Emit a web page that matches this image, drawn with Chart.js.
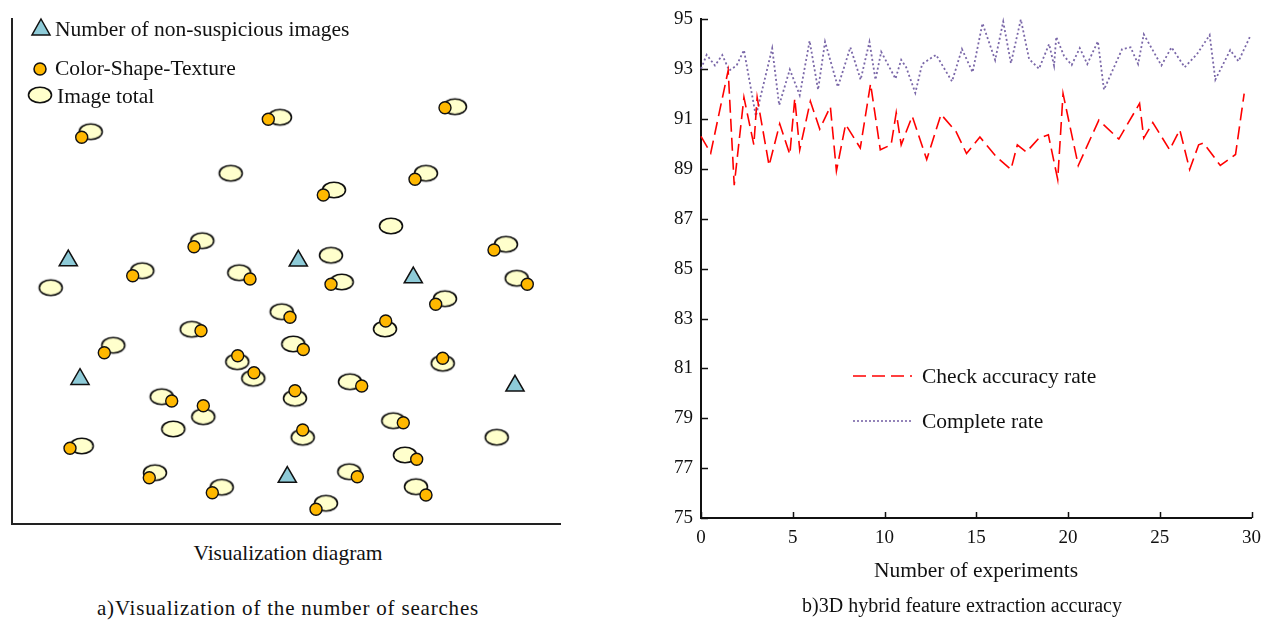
<!DOCTYPE html>
<html>
<head>
<meta charset="utf-8">
<script src="https://cdn.jsdelivr.net/npm/chart.js"></script>
<style>
  body { margin: 0; background: #fff; width: 1270px; height: 621px; position: relative; overflow: hidden;
         font-family: "Liberation Serif", "Times New Roman", serif; color: #111; }
  #leftBox { position: absolute; left: 0; top: 0; width: 600px; height: 540px; }
  #rightBox { position: absolute; left: 640px; top: 0; width: 630px; height: 560px; }
  .lbl { position: absolute; white-space: nowrap; transform: translate(-50%, -50%); font-size: 21.5px; }
</style>
</head>
<body>
<div id="leftBox"><canvas id="leftCanvas"></canvas></div>
<div id="rightBox"><canvas id="rightCanvas"></canvas></div>
<div class="lbl" style="left:288px;top:553px;">Visualization diagram</div>
<div class="lbl" style="left:288px;top:608px;font-size:21px;letter-spacing:0.8px;">a)Visualization of the number of searches</div>
<div class="lbl" style="left:976px;top:570px;">Number of experiments</div>
<div class="lbl" style="left:962px;top:605px;font-size:20px;">b)3D hybrid feature extraction accuracy</div>

<script>
// a) visualisation diagram : positions inside the diagram
const imageTotalX = [78.7, 268, 218.7, 190.3, 130.3, 227.3, 38.7, 269.7, 179.7, 101.3, 443, 414, 322, 379, 319, 494, 329.7, 504.7, 433, 373,
  281.3, 225.3, 241.3, 149.7, 191.3, 161.3, 69.7, 143, 209.7, 430.7, 338, 283, 381.3, 290.7, 484.7, 393, 337.3, 404, 314];
const imageTotalY = [392.3, 406.7, 350.7, 283.3, 253.3, 251.3, 236.3, 212.3, 194.7, 178.7, 417.3, 350.7, 334, 298, 268.7, 279.7, 242, 245.7, 225.3, 195,
  180, 162.3, 145.7, 127.3, 107.3, 95, 78, 51.3, 36.7, 160.7, 142.3, 125.7, 103.3, 86.7, 86.7, 69, 52.3, 37.3, 20.7];

const cstX = [69.7, 256.3, 182, 120.7, 238, 278, 189, 92.3, 433, 403, 311.3, 482, 319, 515.3, 423.7, 373.7, 291.3, 225.7, 242, 159.7,
  191.3, 58, 137.3, 200.3, 430.7, 349.7, 283, 391.3, 290.7, 404.7, 345.3, 414, 304];
const cstY = [386.7, 404.7, 277.3, 248.3, 245, 206.7, 193.3, 171.3, 416.3, 344.7, 329, 274, 239.7, 239.7, 219.7, 203, 174.5, 168.3, 151.3, 123,
  118.3, 75.7, 46.3, 31.3, 165.7, 138, 133.3, 101.3, 94, 64.7, 47.3, 29, 14.7];

const nonSuspX = [56.3, 286.3, 401.3, 68, 503, 275.3];
const nonSuspY = [263.5, 263.2, 246.5, 144.8, 138.2, 47];

const legendLeft = ["Number of non-suspicious images", "Color-Shape-Texture", "Image total"];

// b) accuracy per experiment
const checkX = [0, 0.53, 1.48, 1.81, 2.34, 2.88, 3.06, 3.71, 4.29, 4.84, 5.11, 5.38, 5.96, 6.47, 7.05, 7.38, 7.88, 8.68, 9.24, 9.77,
  10.36, 10.64, 10.91, 11.51, 12.3, 13.08, 13.9, 14.47, 15.2, 16.07, 16.89, 17.24, 17.73, 18.42, 18.93, 19.44, 19.73, 20.56, 21.68, 22.77,
  23.9, 24.13, 24.62, 25.54, 26.09, 26.63, 27.12, 27.39, 28.3, 29.13, 29.6];
const checkY = [90.31, 89.64, 92.95, 88.35, 91.87, 89.97, 91.87, 89.14, 90.81, 89.58, 91.83, 89.77, 91.72, 90.6, 91.5, 88.92, 90.79, 89.84, 92.42, 89.77,
  89.97, 91.26, 89.97, 91.12, 89.38, 91.19, 90.5, 89.62, 90.28, 89.51, 88.98, 89.97, 89.68, 90.24, 90.37, 88.58, 92.02, 89.14, 90.96, 90.2,
  91.63, 90.24, 90.86, 89.77, 90.57, 88.98, 89.97, 90.04, 89.14, 89.58, 92.02];

const completeX = [0, 0.31, 0.76, 1.16, 1.54, 1.94, 2.34, 2.99, 3.88, 4.26, 4.84, 5.38, 5.92, 6.38, 6.76, 7.46, 8.14, 8.7, 9.18, 9.51,
  9.82, 10.6, 10.91, 11.18, 11.68, 12.05, 12.81, 13.68, 14.22, 14.8, 15.34, 16.03, 16.47, 16.89, 17.43, 17.88, 18.42, 18.97, 19.24, 19.36,
  19.78, 20.2, 20.64, 21.05, 21.63, 21.96, 22.95, 23.41, 23.82, 24.13, 25.09, 25.64, 26.36, 27.03, 27.72, 28.03, 28.84, 29.29, 29.92];
const completeY = [93.02, 93.58, 93.15, 93.57, 92.95, 93.15, 93.77, 91.12, 93.84, 91.56, 92.99, 91.96, 94.14, 92.18, 94.1, 92.29, 93.88, 92.58, 94.1, 92.58,
  93.7, 92.62, 93.38, 93.08, 92.05, 93.21, 93.58, 92.51, 93.81, 92.88, 94.84, 93.37, 94.91, 93.24, 95.0, 93.41, 93.02, 94.01, 93.15, 94.3,
  93.54, 93.17, 93.85, 93.21, 94.12, 92.18, 93.81, 93.88, 93.21, 94.4, 93.15, 93.88, 93.08, 93.61, 94.37, 92.58, 93.77, 93.32, 94.31];

const xTicks = [0, 5, 10, 15, 20, 25, 30];
const yTicks = [75, 77, 79, 81, 83, 85, 87, 89, 91, 93, 95];
const seriesNames = ["Check accuracy rate", "Complete rate"];

const serif = '"Liberation Serif", "Times New Roman", serif';
const ink = "#111";
const creamFill = "#ffffcc";
const orangeFill = "#ffb800";
const blueFill = "#8ecbd8";
const redLine = "#ff0000";
const purpleLine = "#7a67a8";

const toPoints = (xs, ys) => xs.map((x, i) => ({ x: x, y: ys[i] }));

// ellipse marker for "Image total"
const makeEllipse = () => {
  const c = document.createElement("canvas");
  c.width = 28;
  c.height = 20;
  const g = c.getContext("2d");
  g.beginPath();
  g.ellipse(14, 10, 11.5, 7.8, 0, 0, Math.PI * 2);
  g.fillStyle = creamFill;
  g.fill();
  g.lineWidth = 1.6;
  g.strokeStyle = ink;
  g.stroke();
  return c;
};
const ellipseImg = makeEllipse();

const leftLegend = {
  id: "leftLegend",
  afterDraw(chart) {
    const ctx = chart.ctx;
    ctx.save();
    ctx.lineWidth = 1.5;
    ctx.strokeStyle = ink;
    // triangle
    ctx.beginPath();
    ctx.moveTo(41, 19);
    ctx.lineTo(50, 35);
    ctx.lineTo(32, 35);
    ctx.closePath();
    ctx.fillStyle = blueFill;
    ctx.fill();
    ctx.stroke();
    // circle
    ctx.beginPath();
    ctx.arc(40, 69, 6, 0, Math.PI * 2);
    ctx.fillStyle = orangeFill;
    ctx.fill();
    ctx.stroke();
    // ellipse
    ctx.drawImage(ellipseImg, 40 - 14, 95 - 10);
    ctx.fillStyle = ink;
    ctx.font = "21.5px " + serif;
    ctx.textBaseline = "middle";
    ctx.fillText(legendLeft[0], 55, 30);
    ctx.fillText(legendLeft[1], 55, 69);
    ctx.fillText(legendLeft[2], 57, 97);
    ctx.restore();
  },
};

const leftChart = new Chart(document.getElementById("leftCanvas"), {
  type: "scatter",
  data: {
    datasets: [
      {
        label: legendLeft[1],
        data: toPoints(cstX, cstY),
        pointStyle: "circle",
        pointRadius: 6,
        backgroundColor: orangeFill,
        borderColor: ink,
        borderWidth: 1.4,
        order: 0,
      },
      {
        label: legendLeft[0],
        data: toPoints(nonSuspX, nonSuspY),
        pointStyle: "triangle",
        pointRadius: 10.5,
        backgroundColor: blueFill,
        borderColor: ink,
        borderWidth: 1.5,
        order: 1,
      },
      {
        label: legendLeft[2],
        data: toPoints(imageTotalX, imageTotalY),
        pointStyle: ellipseImg,
        pointRadius: 10,
        order: 2,
      },
    ],
  },
  options: {
    responsive: true,
    maintainAspectRatio: false,
    animation: false,
    layout: { padding: { left: 12, top: 19, right: 40, bottom: 16 } },
    plugins: { legend: { display: false }, tooltip: { enabled: false } },
    scales: {
      x: {
        type: "linear",
        min: 0,
        max: 548,
        ticks: { display: false },
        grid: { display: false, drawTicks: false },
        border: { display: true, color: "#222", width: 2 },
        afterFit: (s) => { s.height = 0; },
      },
      y: {
        type: "linear",
        min: 0,
        max: 505,
        ticks: { display: false },
        grid: { display: false, drawTicks: false },
        border: { display: true, color: "#222", width: 2 },
        afterFit: (s) => { s.width = 0; },
      },
    },
  },
  plugins: [leftLegend],
});

// inward tick marks + legend for the accuracy chart
const inwardTicks = {
  id: "inwardTicks",
  afterDraw(chart) {
    const { ctx, chartArea, scales } = chart;
    ctx.save();
    ctx.strokeStyle = ink;
    ctx.lineWidth = 1.5;
    ctx.beginPath();
    xTicks.forEach((v) => {
      const px = Math.round(scales.x.getPixelForValue(v)) + 0.5;
      ctx.moveTo(px, chartArea.bottom);
      ctx.lineTo(px, chartArea.bottom - 6);
    });
    yTicks.forEach((v) => {
      const py = Math.round(scales.y.getPixelForValue(v)) + 0.5;
      ctx.moveTo(chartArea.left, py);
      ctx.lineTo(chartArea.left + 7, py);
    });
    ctx.stroke();
    ctx.restore();
  },
};

const rightLegend = {
  id: "rightLegend",
  afterDraw(chart) {
    const ctx = chart.ctx;
    ctx.save();
    ctx.lineWidth = 1.6;
    ctx.strokeStyle = redLine;
    ctx.setLineDash([13, 6]);
    ctx.beginPath();
    ctx.moveTo(213, 376);
    ctx.lineTo(272, 376);
    ctx.stroke();
    ctx.strokeStyle = purpleLine;
    ctx.setLineDash([2, 2]);
    ctx.beginPath();
    ctx.moveTo(213, 421);
    ctx.lineTo(273, 421);
    ctx.stroke();
    ctx.setLineDash([]);
    ctx.fillStyle = ink;
    ctx.font = "21.5px " + serif;
    ctx.textBaseline = "middle";
    ctx.fillText(seriesNames[0], 282, 377);
    ctx.fillText(seriesNames[1], 282, 422);
    ctx.restore();
  },
};

const rightChart = new Chart(document.getElementById("rightCanvas"), {
  type: "line",
  data: {
    datasets: [
      {
        label: seriesNames[0],
        data: toPoints(checkX, checkY),
        borderColor: redLine,
        borderWidth: 1.6,
        borderDash: [13, 6],
        pointRadius: 0,
        tension: 0,
        fill: false,
      },
      {
        label: seriesNames[1],
        data: toPoints(completeX, completeY),
        borderColor: purpleLine,
        borderWidth: 1.8,
        borderDash: [2, 2.5],
        pointRadius: 0,
        tension: 0,
        fill: false,
      },
    ],
  },
  options: {
    responsive: true,
    maintainAspectRatio: false,
    animation: false,
    clip: false,
    layout: { padding: { left: 0, top: 15, right: 17, bottom: 0 } },
    plugins: { legend: { display: false }, tooltip: { enabled: false } },
    scales: {
      x: {
        type: "linear",
        min: 0,
        max: 30,
        afterBuildTicks: (s) => { s.ticks = xTicks.map((v) => ({ value: v })); },
        ticks: { font: { family: serif, size: 19 }, color: ink, padding: 9, maxRotation: 0 },
        grid: { display: false, drawTicks: false },
        border: { display: true, color: ink, width: 2 },
        afterFit: (s) => { s.height = 42; },
      },
      y: {
        type: "linear",
        min: 75,
        max: 95,
        afterBuildTicks: (s) => { s.ticks = yTicks.map((v) => ({ value: v })); },
        ticks: { font: { family: serif, size: 19 }, color: ink, padding: 8 },
        grid: { display: false, drawTicks: false },
        border: { display: true, color: ink, width: 2 },
        afterFit: (s) => { s.width = 61; },
      },
    },
  },
  plugins: [inwardTicks, rightLegend],
});
</script>
</body>
</html>
